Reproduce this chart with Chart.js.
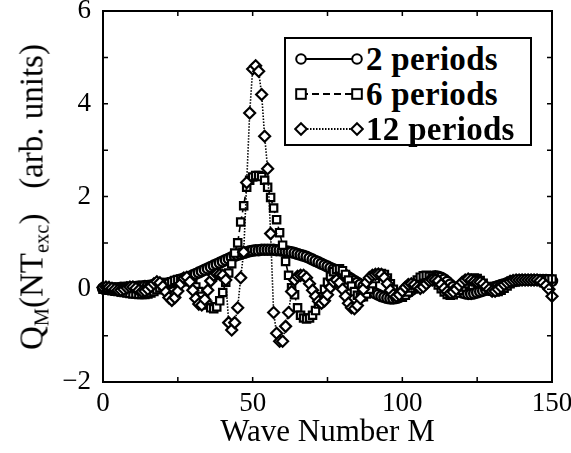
<!DOCTYPE html>
<html>
<head>
<meta charset="utf-8">
<script src="https://cdn.jsdelivr.net/npm/chart.js@4.4.1/dist/chart.umd.min.js"></script>
<style>
  html, body { margin:0; padding:0; background:#fff; }
  #wrap { position:relative; width:571px; height:453px; font-family:"Liberation Serif","Times New Roman",serif; color:#000; }
  #c { position:absolute; left:0; top:0; }
  #ytitle { position:absolute; left:32px; top:197px; transform:translate(-50%,-50%) rotate(-90deg); white-space:nowrap; font-size:33px; line-height:1; }
  #ytitle sub { font-size:0.62em; vertical-align:-0.3em; line-height:0; }
  #legend { position:absolute; left:284px; top:37px; width:244px; height:105px; border:2px solid #000; background:#fff; }
  .row { position:absolute; left:0; height:34px; display:flex; align-items:center; }
  .row svg { display:block; margin-left:8px; }
  .row span { font-weight:bold; font-size:33px; letter-spacing:0.3px; margin-left:2px; white-space:nowrap; line-height:1; }
</style>
</head>
<body>
<div id="wrap">
  <canvas id="c" width="571" height="453"></canvas>
  <div id="ytitle">Q<sub>M</sub>(NT<sub>exc</sub>)&nbsp;&nbsp;&nbsp;(arb. units)</div>
  <div id="legend"></div>
</div>
<script>
// ---- data ----
const waveNumbers = [0,1,2,3,4,5,6,7,8,9,10,11,12,13,14,15,16,17,18,19,20,21,22,23,24,25,26,27,28,29,30,31,32,33,34,35,36,37,38,39,40,41,42,43,44,45,46,47,48,49,50,51,52,53,54,55,56,57,58,59,60,61,62,63,64,65,66,67,68,69,70,71,72,73,74,75,76,77,78,79,80,81,82,83,84,85,86,87,88,89,90,91,92,93,94,95,96,97,98,99,100,101,102,103,104,105,106,107,108,109,110,111,112,113,114,115,116,117,118,119,120,121,122,123,124,125,126,127,128,129,130,131,132,133,134,135,136,137,138,139,140,141,142,143,144,145,146,147,148,149,150];

const seriesNames = ["2 periods", "6 periods", "12 periods"];

const q2periods = [
  0.02,0.02,0.02,0.02,0.02,0.02,0.03,0.03,0.04,0.04,0.05,
  0.05,0.06,0.06,0.07,0.07,0.08,0.09,0.1,0.11,0.12,
  0.12,0.13,0.15,0.17,0.19,0.21,0.23,0.25,0.27,0.3,
  0.33,0.36,0.39,0.42,0.45,0.48,0.51,0.54,0.57,0.6,
  0.63,0.66,0.69,0.72,0.74,0.76,0.78,0.8,0.82,0.83,
  0.84,0.84,0.85,0.85,0.85,0.85,0.85,0.84,0.84,0.83,
  0.82,0.81,0.8,0.78,0.76,0.74,0.72,0.7,0.67,0.64,
  0.61,0.58,0.55,0.52,0.49,0.46,0.43,0.4,0.37,0.34,
  0.3,0.26,0.22,0.18,0.14,0.1,0.06,0.02,-0.02,-0.06,
  -0.09,-0.12,-0.15,-0.17,-0.19,-0.2,-0.2,-0.19,-0.17,-0.14,
  -0.1,-0.06,-0.02,0.03,0.08,0.13,0.18,0.22,0.25,0.27,
  0.28,0.27,0.25,0.21,0.16,0.1,0.05,0.0,-0.04,-0.07,
  -0.09,-0.1,-0.1,-0.09,-0.07,-0.05,-0.03,-0.01,0.01,0.03,
  0.05,0.07,0.09,0.11,0.13,0.15,0.17,0.18,0.19,0.2,
  0.2,0.2,0.2,0.2,0.2,0.2,0.2,0.2,0.19,0.18
];

const q6periods = [
  0.0,-0.01,-0.02,-0.03,-0.04,-0.05,-0.06,-0.07,-0.08,-0.09,-0.1,
  -0.1,-0.11,-0.11,-0.11,-0.1,-0.08,-0.05,-0.01,0.03,0.07,
  0.1,0.13,0.16,0.19,0.21,0.22,0.22,0.2,0.16,0.11,
  0.05,-0.05,-0.15,-0.25,-0.34,-0.4,-0.42,-0.38,-0.25,-0.07,
  0.15,0.35,0.55,0.78,1.0,1.45,1.8,2.2,2.35,2.42,
  2.45,2.45,2.43,2.35,2.2,1.98,1.75,1.5,1.22,0.95,
  0.6,0.3,0.03,-0.12,-0.4,-0.56,-0.62,-0.64,-0.62,-0.56,
  -0.46,-0.32,-0.16,0.0,0.15,0.28,0.38,0.43,0.44,0.4,
  0.32,0.2,0.07,-0.05,-0.13,-0.17,-0.16,-0.1,0.0,0.12,
  0.23,0.31,0.34,0.32,0.24,0.12,0.0,-0.1,-0.16,-0.17,
  -0.13,-0.06,0.03,0.12,0.2,0.26,0.29,0.3,0.28,0.24,
  0.17,0.09,0.01,-0.06,-0.11,-0.13,-0.12,-0.08,-0.02,0.05,
  0.12,0.18,0.22,0.24,0.23,0.19,0.13,0.06,0.0,-0.04,
  -0.06,-0.05,-0.02,0.02,0.07,0.12,0.16,0.19,0.21,0.22,
  0.22,0.21,0.2,0.2,0.2,0.2,0.2,0.21,0.22,0.22
];

const q12periods = [
  0.04,0.05,0.04,0.02,0.0,-0.02,-0.02,0.0,0.03,0.05,0.05,
  0.02,-0.02,-0.05,-0.04,0.0,0.06,0.12,0.16,0.14,0.06,
  -0.06,-0.18,-0.24,-0.18,-0.04,0.12,0.24,0.26,0.16,-0.02,
  -0.2,-0.32,-0.34,-0.22,-0.02,0.18,0.3,0.33,0.32,0.3,
  0.2,-0.72,-0.88,-0.72,-0.4,0.25,0.8,2.3,3.8,4.75,
  4.82,4.7,4.2,3.3,2.6,1.2,-0.5,-0.95,-1.12,-1.12,
  -0.8,-0.5,-0.05,0.2,0.28,0.3,0.3,0.25,0.12,-0.02,
  -0.15,-0.26,-0.3,-0.25,-0.12,0.04,0.16,0.2,0.14,0.0,
  -0.15,-0.3,-0.4,-0.42,-0.35,-0.2,0.0,0.15,0.25,0.3,
  0.32,0.33,0.32,0.25,0.12,-0.02,-0.12,-0.15,-0.12,-0.04,
  0.04,0.1,0.12,0.1,0.05,0.02,0.05,0.12,0.18,0.2,
  0.2,0.18,0.1,0.02,-0.05,-0.08,-0.06,0.0,0.08,0.15,
  0.2,0.22,0.2,0.17,0.15,0.15,0.12,0.06,0.0,-0.04,
  -0.04,0.0,0.05,0.1,0.14,0.17,0.19,0.2,0.2,0.2,
  0.2,0.2,0.2,0.2,0.2,0.18,0.14,0.08,0.0,-0.15
];

const xTickLabels = [0, 50, 100, 150];
const yTickLabels = [-2, 0, 2, 4, 6];

// ---- build chart ----
const toPoints = (vals) => waveNumbers.map((m, i) => ({ x: m, y: vals[i] }));
const FONT = '"Liberation Serif","Times New Roman",serif';

const common = {
  borderColor: '#000', borderWidth: 1.6, pointBorderColor: '#000',
  pointBackgroundColor: '#fff', pointBorderWidth: 2.2, tension: 0, clip: false,
  pointHoverRadius: 0
};

const frameTicks = {
  id: 'frameTicks',
  afterDatasetsDraw(chart) {
    const { ctx, chartArea: a, scales: { x, y } } = chart;
    ctx.save();
    ctx.strokeStyle = '#000';
    ctx.lineWidth = 2;
    ctx.strokeRect(a.left, a.top, a.right - a.left, a.bottom - a.top);
    ctx.lineWidth = 1.5;
    ctx.beginPath();
    for (let v = x.min; v <= x.max; v += 25) {
      const px = x.getPixelForValue(v);
      ctx.moveTo(px, a.bottom); ctx.lineTo(px, a.bottom - 5);
      ctx.moveTo(px, a.top); ctx.lineTo(px, a.top + 5);
    }
    for (let v = y.min; v <= y.max; v += 1) {
      const py = y.getPixelForValue(v);
      ctx.moveTo(a.left, py); ctx.lineTo(a.left + 5, py);
      ctx.moveTo(a.right, py); ctx.lineTo(a.right - 5, py);
    }
    ctx.stroke();
    ctx.restore();
  }
};

new Chart(document.getElementById('c'), {
  type: 'line',
  data: {
    datasets: [
      Object.assign({}, common, { label: seriesNames[2], data: toPoints(q12periods), borderDash: [1.5, 1.5], pointStyle: 'rectRot', pointRadius: 5.5 }),
      Object.assign({}, common, { label: seriesNames[1], data: toPoints(q6periods), borderDash: [6, 4], pointStyle: 'rect', pointRadius: 5.2 }),
      Object.assign({}, common, { label: seriesNames[0], data: toPoints(q2periods), pointStyle: 'circle', pointRadius: 5, pointBorderWidth: 2.5 })
    ]
  },
  options: {
    responsive: false, animation: false,
    layout: { padding: { left: 0, right: 19, top: 11, bottom: 0 } },
    plugins: { legend: { display: false }, tooltip: { enabled: false } },
    events: [],
    scales: {
      x: {
        type: 'linear', min: 0, max: 150,
        afterBuildTicks(s) { s.ticks = xTickLabels.map(v => ({ value: v })); },
        afterFit(s) { s.height = 71; s.paddingLeft = 0; s.paddingRight = 0; },
        grid: { display: false, drawTicks: false }, border: { display: false },
        ticks: { color: '#000', font: { family: FONT, size: 27 }, padding: 6, maxRotation: 0 },
        title: { display: true, text: 'Wave Number M', color: '#000', font: { family: FONT, size: 31 }, padding: { top: 0, bottom: 2 } }
      },
      y: {
        min: -2, max: 6,
        afterBuildTicks(s) { s.ticks = yTickLabels.map(v => ({ value: v })); },
        afterFit(s) { s.width = 103; s.paddingTop = 0; s.paddingBottom = 0; },
        grid: { display: false, drawTicks: false }, border: { display: false },
        ticks: { color: '#000', font: { family: FONT, size: 27 }, padding: 12,
          callback: v => v < 0 ? '\u2212' + Math.abs(v) : String(v) }
      }
    }
  },
  plugins: [frameTicks]
});

// ---- legend (HTML, real text) ----
const legendEl = document.getElementById('legend');
const markerSvg = (kind, dash) => {
  const m = (cx) => {
    if (kind === 'circle') return `<circle cx="${cx}" cy="10" r="4.8" fill="#fff" stroke="#000" stroke-width="2"/>`;
    if (kind === 'rect') return `<rect x="${cx-4.8}" y="5.2" width="9.6" height="9.6" fill="#fff" stroke="#000" stroke-width="2"/>`;
    return `<polygon points="${cx},4.2 ${cx+5.8},10 ${cx},15.8 ${cx-5.8},10" fill="#fff" stroke="#000" stroke-width="2"/>`;
  };
  return `<svg width="70" height="20"><line x1="7" y1="10" x2="63" y2="10" stroke="#000" stroke-width="1.8" ${dash ? `stroke-dasharray="${dash}"` : ''}/>${m(7)}${m(63)}</svg>`;
};
const legendDefs = [
  { name: seriesNames[0], kind: 'circle', dash: '' },
  { name: seriesNames[1], kind: 'rect', dash: '7,4' },
  { name: seriesNames[2], kind: 'diamond', dash: '1.5,1.5' }
];
legendDefs.forEach((d, i) => {
  const row = document.createElement('div');
  row.className = 'row';
  row.style.top = (3 + i * 35) + 'px';
  row.innerHTML = markerSvg(d.kind, d.dash) + `<span>${d.name}</span>`;
  legendEl.appendChild(row);
});
</script>
</body>
</html>
